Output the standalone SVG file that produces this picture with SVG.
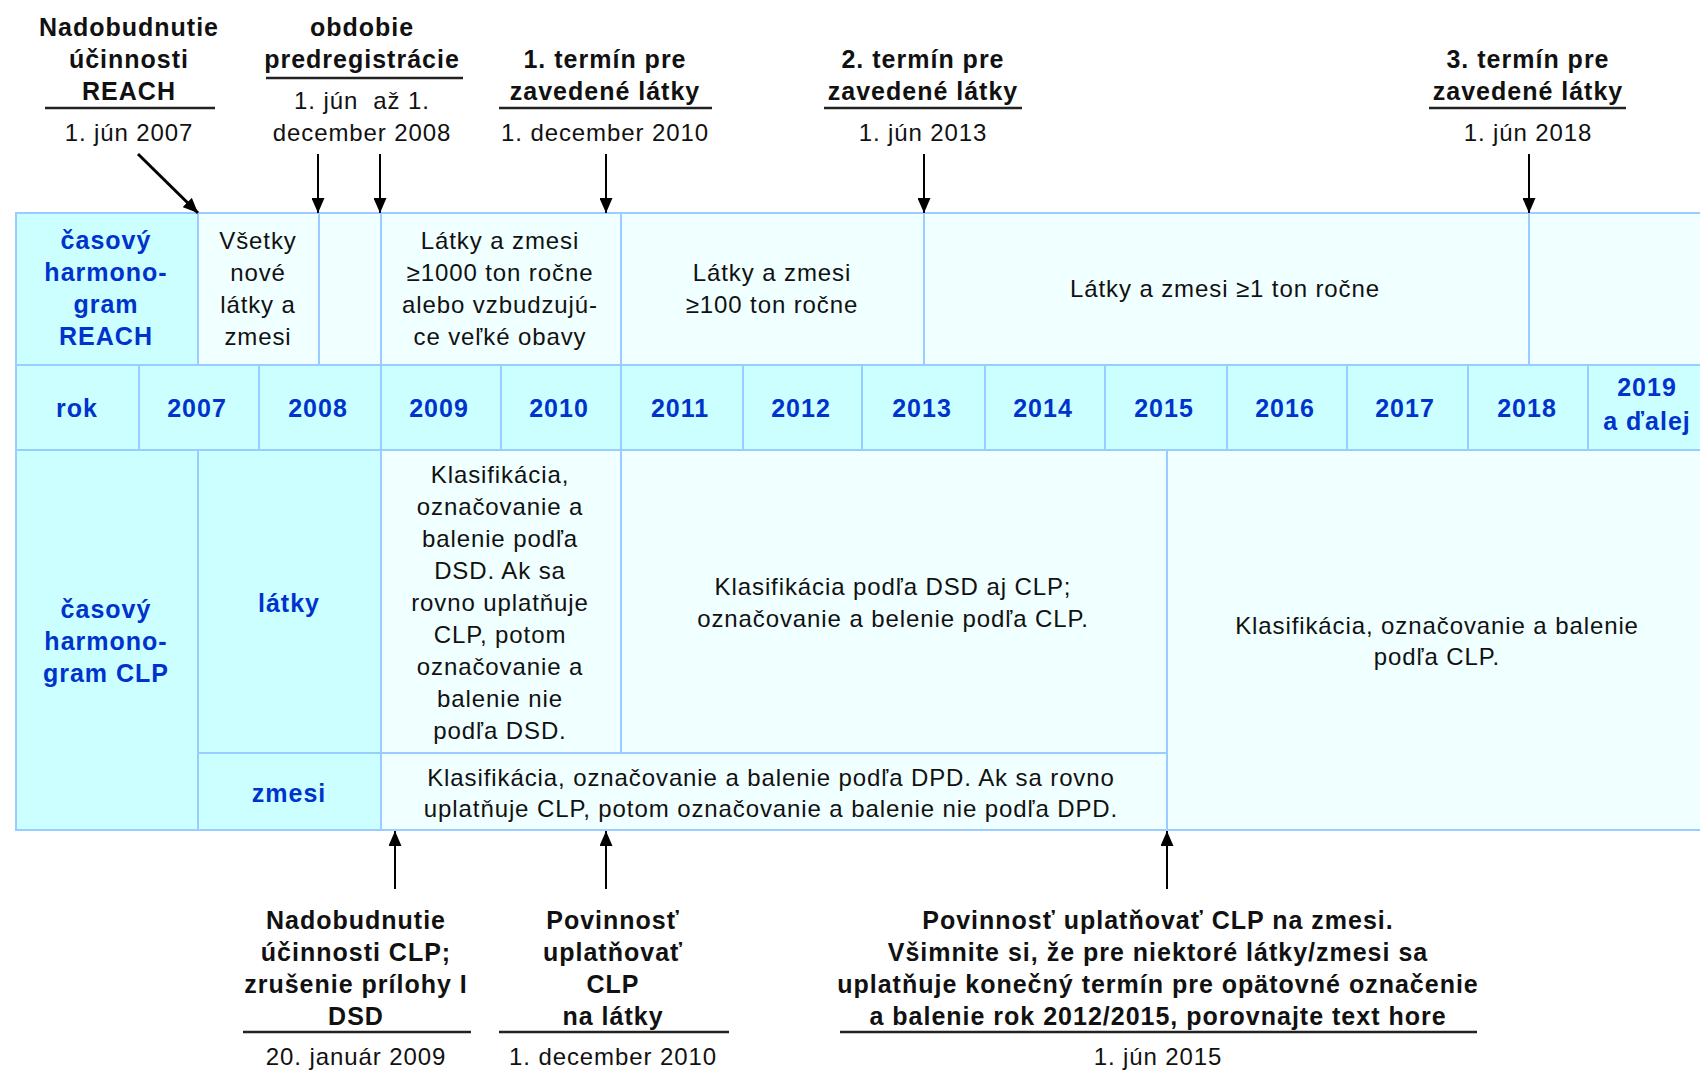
<svg xmlns="http://www.w3.org/2000/svg" width="1700" height="1072" viewBox="0 0 1700 1072">
<style>
.hc{fill:#CCFFFF;stroke:#99CCFF;stroke-width:2}
.cc{fill:#F0FFFF;stroke:#99CCFF;stroke-width:2}
text{font-family:"Liberation Sans",Arial,sans-serif;font-size:24px;letter-spacing:0.9px;fill:#111;text-anchor:middle}
.b{font-weight:bold;font-size:25px;letter-spacing:1px}
.blue{font-weight:bold;font-size:25px;letter-spacing:1px;fill:#0033CC}
.ul{stroke:#222;stroke-width:2.5}
.arr{stroke:#000;stroke-width:2;fill:none;marker-end:url(#ah)}
.arr.thick{stroke-width:3}
</style>
<defs>
<marker id="ah" markerUnits="userSpaceOnUse" markerWidth="15" markerHeight="13" refX="15" refY="6.5" orient="auto">
<path d="M0,0 L15,6.5 L0,13 z" fill="#000"/>
</marker>
</defs>
<rect width="1700" height="1072" fill="#fff"/>

<!-- REACH row -->
<g id="reach-head"><rect class="hc" x="16" y="213" width="182" height="152"/>
<text class="blue"><tspan x="106" y="249">časový</tspan><tspan x="106" y="281">harmono-</tspan><tspan x="106" y="313">gram</tspan><tspan x="106" y="345">REACH</tspan></text></g>
<g id="reach-new"><rect class="cc" x="198" y="213" width="121" height="152"/>
<text><tspan x="258" y="249">Všetky</tspan><tspan x="258" y="281">nové</tspan><tspan x="258" y="313">látky a</tspan><tspan x="258" y="345">zmesi</tspan></text></g>
<g id="reach-gap"><rect class="cc" x="319" y="213" width="62" height="152"/></g>
<g id="reach-1000"><rect class="cc" x="381" y="213" width="240" height="152"/>
<text><tspan x="500" y="249">Látky a zmesi</tspan><tspan x="500" y="281">≥1000 ton ročne</tspan><tspan x="500" y="313">alebo vzbudzujú-</tspan><tspan x="500" y="345">ce veľké obavy</tspan></text></g>
<g id="reach-100"><rect class="cc" x="621" y="213" width="303" height="152"/>
<text><tspan x="772" y="281">Látky a zmesi</tspan><tspan x="772" y="313">≥100 ton ročne</tspan></text></g>
<g id="reach-1"><rect class="cc" x="924" y="213" width="605" height="152"/>
<text x="1225" y="297">Látky a zmesi ≥1 ton ročne</text></g>
<g id="reach-last"><rect class="cc" x="1529" y="213" width="181" height="152"/></g>

<!-- Year row -->
<g id="y-rok"><rect class="hc" x="16" y="365" width="123" height="85"/><text class="blue" x="77" y="417">rok</text></g>
<g id="y-2007"><rect class="hc" x="139" y="365" width="120" height="85"/><text class="blue" x="197" y="417">2007</text></g>
<g id="y-2008"><rect class="hc" x="259" y="365" width="122" height="85"/><text class="blue" x="318" y="417">2008</text></g>
<g id="y-2009"><rect class="hc" x="381" y="365" width="120" height="85"/><text class="blue" x="439" y="417">2009</text></g>
<g id="y-2010"><rect class="hc" x="501" y="365" width="120" height="85"/><text class="blue" x="559" y="417">2010</text></g>
<g id="y-2011"><rect class="hc" x="621" y="365" width="122" height="85"/><text class="blue" x="680" y="417">2011</text></g>
<g id="y-2012"><rect class="hc" x="743" y="365" width="119" height="85"/><text class="blue" x="801" y="417">2012</text></g>
<g id="y-2013"><rect class="hc" x="862" y="365" width="123" height="85"/><text class="blue" x="922" y="417">2013</text></g>
<g id="y-2014"><rect class="hc" x="985" y="365" width="120" height="85"/><text class="blue" x="1043" y="417">2014</text></g>
<g id="y-2015"><rect class="hc" x="1105" y="365" width="122" height="85"/><text class="blue" x="1164" y="417">2015</text></g>
<g id="y-2016"><rect class="hc" x="1227" y="365" width="120" height="85"/><text class="blue" x="1285" y="417">2016</text></g>
<g id="y-2017"><rect class="hc" x="1347" y="365" width="121" height="85"/><text class="blue" x="1405" y="417">2017</text></g>
<g id="y-2018"><rect class="hc" x="1468" y="365" width="120" height="85"/><text class="blue" x="1527" y="417">2018</text></g>
<g id="y-2019"><rect class="hc" x="1588" y="365" width="122" height="85"/><text class="blue"><tspan x="1647" y="396">2019</tspan><tspan x="1647" y="430">a ďalej</tspan></text></g>

<!-- CLP rows -->
<g id="clp-head"><rect class="hc" x="16" y="450" width="182" height="380"/>
<text class="blue"><tspan x="106" y="618">časový</tspan><tspan x="106" y="650">harmono-</tspan><tspan x="106" y="682">gram CLP</tspan></text></g>
<g id="clp-latky-label"><rect class="hc" x="198" y="450" width="183" height="303"/><text class="blue" x="289" y="612">látky</text></g>
<g id="clp-zmesi-label"><rect class="hc" x="198" y="753" width="183" height="77"/><text class="blue" x="289" y="802">zmesi</text></g>
<g id="clp-latky-dsd"><rect class="cc" x="381" y="450" width="240" height="303"/>
<text><tspan x="500" y="483">Klasifikácia,</tspan><tspan x="500" y="515">označovanie a</tspan><tspan x="500" y="547">balenie podľa</tspan><tspan x="500" y="579">DSD. Ak sa</tspan><tspan x="500" y="611">rovno uplatňuje</tspan><tspan x="500" y="643">CLP, potom</tspan><tspan x="500" y="675">označovanie a</tspan><tspan x="500" y="707">balenie nie</tspan><tspan x="500" y="739">podľa DSD.</tspan></text></g>
<g id="clp-latky-both"><rect class="cc" x="621" y="450" width="546" height="303"/>
<text><tspan x="893" y="595">Klasifikácia podľa DSD aj CLP;</tspan><tspan x="893" y="627">označovanie a belenie podľa CLP.</tspan></text></g>
<g id="clp-zmesi-dpd"><rect class="cc" x="381" y="753" width="786" height="77"/>
<text><tspan x="771" y="786">Klasifikácia, označovanie a balenie podľa DPD. Ak sa rovno</tspan><tspan x="771" y="817">uplatňuje CLP, potom označovanie a balenie nie podľa DPD.</tspan></text></g>
<g id="clp-all"><rect class="cc" x="1167" y="450" width="543" height="380"/>
<text><tspan x="1437" y="634">Klasifikácia, označovanie a balenie</tspan><tspan x="1437" y="665">podľa CLP.</tspan></text></g>

<!-- Top labels -->
<g id="lbl-reach">
<text class="b"><tspan x="129" y="36">Nadobudnutie</tspan><tspan x="129" y="68">účinnosti</tspan><tspan x="129" y="100">REACH</tspan></text>
<line class="ul" x1="45" y1="108" x2="215" y2="108"/>
<text x="129" y="141">1. jún 2007</text></g>
<g id="lbl-prereg">
<text class="b"><tspan x="362" y="36">obdobie</tspan><tspan x="362" y="68">predregistrácie</tspan></text>
<line class="ul" x1="266" y1="78" x2="463" y2="78"/>
<text xml:space="preserve"><tspan x="362" y="109">1. jún  až 1.</tspan><tspan x="362" y="141">december 2008</tspan></text></g>
<g id="lbl-t1">
<text class="b"><tspan x="605" y="68">1. termín pre</tspan><tspan x="605" y="100">zavedené látky</tspan></text>
<line class="ul" x1="499" y1="108" x2="712" y2="108"/>
<text x="605" y="141">1. december 2010</text></g>
<g id="lbl-t2">
<text class="b"><tspan x="923" y="68">2. termín pre</tspan><tspan x="923" y="100">zavedené látky</tspan></text>
<line class="ul" x1="824" y1="108" x2="1022" y2="108"/>
<text x="923" y="141">1. jún 2013</text></g>
<g id="lbl-t3">
<text class="b"><tspan x="1528" y="68">3. termín pre</tspan><tspan x="1528" y="100">zavedené látky</tspan></text>
<line class="ul" x1="1429" y1="108" x2="1626" y2="108"/>
<text x="1528" y="141">1. jún 2018</text></g>

<!-- Bottom labels -->
<g id="lbl-clp">
<text class="b"><tspan x="356" y="929">Nadobudnutie</tspan><tspan x="356" y="961">účinnosti CLP;</tspan><tspan x="356" y="993">zrušenie prílohy I</tspan><tspan x="356" y="1025">DSD</tspan></text>
<line class="ul" x1="243" y1="1032" x2="471" y2="1032"/>
<text x="356" y="1065">20. január 2009</text></g>
<g id="lbl-clp-latky">
<text class="b"><tspan x="613" y="929">Povinnosť</tspan><tspan x="613" y="961">uplatňovať</tspan><tspan x="613" y="993">CLP</tspan><tspan x="613" y="1025">na látky</tspan></text>
<line class="ul" x1="499" y1="1032" x2="729" y2="1032"/>
<text x="613" y="1065">1. december 2010</text></g>
<g id="lbl-clp-zmesi">
<text class="b"><tspan x="1158" y="929">Povinnosť uplatňovať CLP na zmesi.</tspan><tspan x="1158" y="961">Všimnite si, že pre niektoré látky/zmesi sa</tspan><tspan x="1158" y="993">uplatňuje konečný termín pre opätovné označenie</tspan><tspan x="1158" y="1025">a balenie rok 2012/2015, porovnajte text hore</tspan></text>
<line class="ul" x1="840" y1="1032" x2="1477" y2="1032"/>
<text x="1158" y="1065">1. jún 2015</text></g>

<!-- Connectors -->
<g id="connectors">
<line class="arr thick" x1="138" y1="154" x2="198" y2="213"/>
<line class="arr" x1="318" y1="154" x2="318" y2="213"/>
<line class="arr" x1="380" y1="154" x2="380" y2="213"/>
<line class="arr" x1="606" y1="154" x2="606" y2="213"/>
<line class="arr" x1="924" y1="154" x2="924" y2="213"/>
<line class="arr" x1="1529" y1="154" x2="1529" y2="213"/>
<line class="arr" x1="395" y1="889" x2="395" y2="831"/>
<line class="arr" x1="606" y1="889" x2="606" y2="831"/>
<line class="arr" x1="1167" y1="889" x2="1167" y2="831"/>
</g>
</svg>
